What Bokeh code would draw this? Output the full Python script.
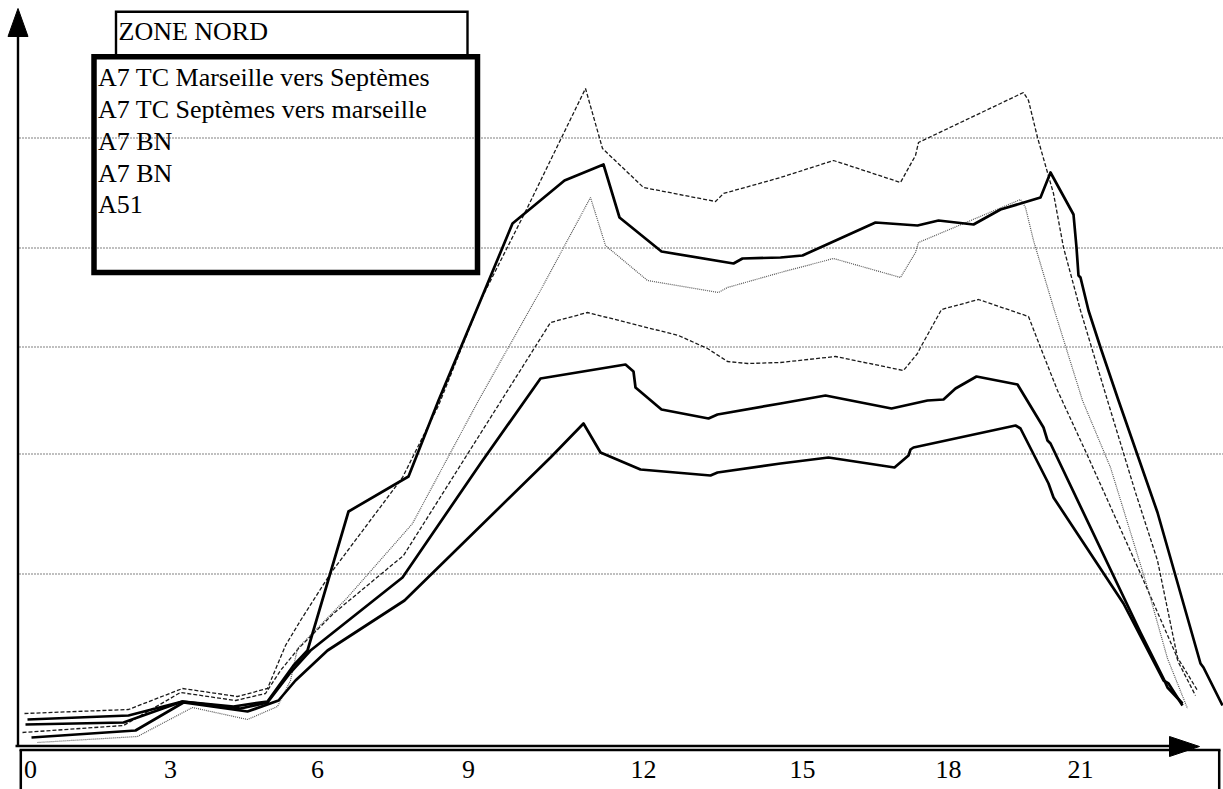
from bokeh.plotting import figure
from bokeh.models import Range1d
from bokeh.core.properties import value
from bokeh.embed import file_html
from bokeh.resources import INLINE

# ---------------- data (x = hour of day, y = traffic units) ----------------
s1_x = [-0.12, 1.96, 3.04, 4.14, 4.74, 5.10, 5.40, 6.00, 7.44, 8.16, 9.00, 9.94, 11.10, 11.44, 12.26, 13.70, 13.86,
        15.00, 16.06, 17.40, 17.70, 17.76, 19.86, 19.96, 20.14, 20.46, 20.66, 21.00, 21.54, 22.10, 22.54, 22.94, 23.34]
s1_y = [330, 370, 580, 500, 580, 1010, 1260, 1730, 2690, 3410, 4460, 5390, 6580, 5980, 5590, 5450, 5530,
        5690, 5860, 5640, 5910, 6040, 6540, 6460, 6090, 5530, 4990, 4360, 3460, 2540, 1860, 890, 560]

s2_x = [-0.06, 1.96, 3.04, 4.06, 4.74, 5.26, 5.54, 6.36, 7.56, 8.16, 9.00, 9.64, 10.68, 11.46, 11.78, 12.62, 14.06,
        14.24, 15.00, 15.44, 16.90, 17.74, 18.16, 18.86, 19.40, 20.20, 20.40, 20.86, 20.92, 20.96, 21.00, 21.16,
        21.40, 21.76, 22.54, 23.40, 23.46, 23.84]
s2_y = [270, 310, 450, 400, 450, 810, 960, 2350, 2700, 3460, 4460, 5230, 5660, 5820, 5290, 4950, 4830,
        4880, 4890, 4910, 5240, 5210, 5260, 5220, 5370, 5490, 5740, 5320, 4990, 4710, 4690, 4360,
        3990, 3460, 2340, 830, 790, 410]

s3_x = [0.14, 2.14, 3.24, 4.34, 4.94, 5.20, 5.34, 6.34, 7.64, 8.96, 10.20, 11.20, 11.50, 12.34, 13.76, 13.94,
        15.00, 16.06, 17.40, 17.70, 17.76, 19.80, 19.90, 20.06, 20.46, 21.04, 21.60, 22.34, 22.74, 23.14]
s3_y = [40, 100, 390, 270, 400, 660, 980, 1490, 2230, 3460, 4560, 5490, 5010, 4660, 4540, 4590,
        4740, 4880, 4690, 4940, 5040, 5470, 5390, 5060, 4390, 3460, 2790, 1590, 880, 380]

s4_x = [-0.16, 1.86, 3.00, 4.10, 4.70, 5.00, 5.36, 6.06, 7.46, 9.00, 10.40, 11.14, 12.96, 13.54, 13.94, 14.34,
        15.00, 16.10, 17.46, 17.74, 17.80, 18.22, 18.96, 19.96, 20.20, 20.54, 21.14, 22.20, 22.90, 22.96, 23.30]
s4_y = [140, 210, 540, 460, 530, 760, 980, 1330, 1910, 3130, 4240, 4340, 4110, 3980, 3850, 3830,
        3840, 3900, 3760, 3930, 3990, 4370, 4470, 4300, 3990, 3560, 2910, 1730, 930, 840, 510]

s5_x = [-0.10, 1.86, 3.04, 4.20, 4.74, 5.20, 5.60, 7.44, 9.00, 10.20, 11.90, 12.06, 12.10, 12.62, 13.56, 13.74,
        15.00, 15.90, 17.22, 17.94, 18.26, 18.50, 18.92, 19.74, 20.26, 20.34, 20.40, 22.20, 22.66, 22.74, 23.04]
s5_y = [220, 240, 450, 380, 440, 740, 960, 1690, 2830, 3680, 3820, 3750, 3590, 3370, 3280, 3320,
        3430, 3510, 3380, 3460, 3470, 3580, 3700, 3620, 3190, 3060, 3030, 1140, 680, 590, 430]

s6_x = [0.02, 2.10, 3.06, 4.34, 4.96, 5.30, 5.94, 7.48, 10.40, 11.06, 11.40, 12.20, 13.60, 13.74, 15.00, 15.96,
        17.28, 17.56, 17.60, 17.66, 19.70, 19.80, 20.36, 20.46, 21.86, 22.66, 22.76, 23.04]
s6_y = [90, 160, 440, 350, 460, 660, 960, 1460, 2890, 3230, 2940, 2770, 2710, 2740, 2830, 2890,
        2790, 2910, 2970, 2990, 3210, 3180, 2630, 2490, 1430, 660, 630, 410]

grid_levels = [6085, 4985, 3995, 2925, 1725]

tick_labels = ["0", "3", "6", "9", "12", "15", "18", "21"]
tick_pos = [0.0, 2.8, 5.74, 8.76, 12.26, 15.44, 18.36, 21.0]

title_text = "ZONE NORD"
legend_labels = ["A7 TC Marseille vers Septèmes", "A7 TC Septèmes vers marseille", "A7 BN", "A7 BN", "A51"]

# ---------------- layout helpers (page pixel -> data) ----------------
def X(px):
    return (px - 30) / 50.0

def Y(py):
    return (746 - py) * 10.0

W, H = 1223, 789
FONT = value("Liberation Serif")

p = figure(width=W, height=H, output_backend="svg", toolbar_location=None,
           x_range=Range1d(X(0), X(W)), y_range=Range1d(Y(H), Y(0)),
           x_axis_location=None, y_axis_location=None, title=None,
           min_border=0, min_border_left=0, min_border_right=0, min_border_top=0, min_border_bottom=0)
p.xgrid.visible = False
p.ygrid.visible = False
p.outline_line_color = None
p.background_fill_color = "white"
p.border_fill_color = "white"

# dotted horizontal reference lines
p.segment(x0=[X(19)] * len(grid_levels), y0=grid_levels, x1=[X(1240)] * len(grid_levels), y1=grid_levels,
          line_color="black", line_width=1.2, line_dash="1 2")

# series
p.line(s1_x, s1_y, line_color="#1a1a1a", line_width=1.3, line_dash="4 2")
p.line(s4_x, s4_y, line_color="#1a1a1a", line_width=1.3, line_dash="4 2")
p.line(s3_x, s3_y, line_color="#555555", line_width=1.2, line_dash="1 1")
for xs, ys in ((s2_x, s2_y), (s5_x, s5_y), (s6_x, s6_y)):
    p.line(xs, ys, line_color="black", line_width=2.7, line_join="round")

# y axis with arrow
p.segment(x0=[X(17.5)], y0=[Y(746)], x1=[X(17.5)], y1=[Y(30)], line_color="black", line_width=2.4)
p.patch([X(7.5), X(27.5), X(17.5)], [Y(36), Y(36), Y(8)], fill_color="black", line_color="black", line_width=1)

# x axis with arrow (double line with box top)
p.segment(x0=[X(15)], y0=[Y(745.5)], x1=[X(1175)], y1=[Y(745.5)], line_color="black", line_width=2.3)
p.patch([X(1169), X(1169), X(1199)], [Y(736), Y(756), Y(746)], fill_color="black", line_color="black", line_width=1)
p.segment(x0=[X(19)], y0=[Y(749.5)], x1=[X(1220)], y1=[Y(749.5)], line_color="black", line_width=2.3)
p.segment(x0=[X(20.3), X(1218.7)], y0=[Y(749.5), Y(749.5)], x1=[X(20.3), X(1218.7)], y1=[Y(800), Y(800)],
          line_color="black", line_width=2.5)

# tick labels
p.text(x=tick_pos, y=[Y(769)] * len(tick_pos), text=tick_labels, text_font=FONT, text_font_size="26px",
       text_align="center", text_baseline="alphabetic", text_color="black")

# title box and legend box
p.quad(left=[X(115.5)], right=[X(467)], top=[Y(11.3)], bottom=[Y(56)], fill_alpha=0,
       line_color="black", line_width=2.4, line_join="miter")
p.text(x=[X(118)], y=[Y(31)], text=[title_text], text_font=FONT, text_font_size="26px",
       text_align="left", text_baseline="alphabetic", text_color="black")
p.quad(left=[X(93.5)], right=[X(477)], top=[Y(56.3)], bottom=[Y(272)], fill_alpha=0,
       line_color="black", line_width=5.5, line_join="miter")
baselines = [77, 109, 141, 173, 204]
p.text(x=[X(97.5)] * len(legend_labels), y=[Y(b) for b in baselines], text=legend_labels, text_font=FONT,
       text_font_size="26px", text_align="left", text_baseline="alphabetic", text_color="black")

open("out.html", "w").write(file_html(p, INLINE))
